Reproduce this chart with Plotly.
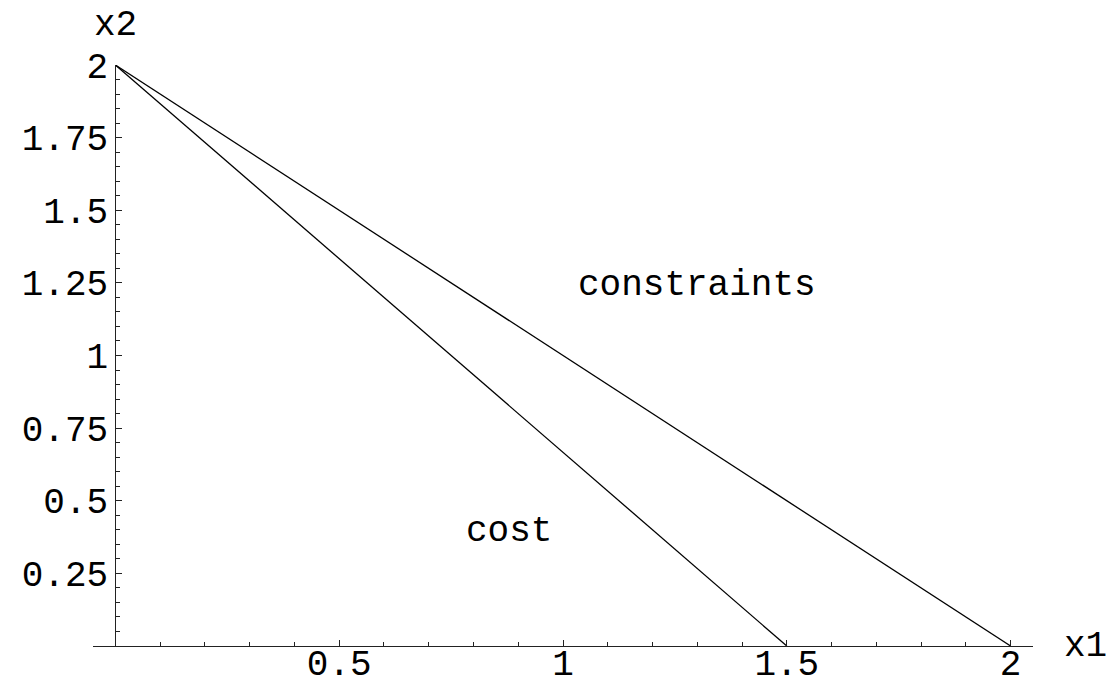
import plotly.graph_objects as go

# Data
cost_x = [0.0, 1.5]
cost_y = [2.0, 0.0]
constraints_x = [0.0, 2.0]
constraints_y = [2.0, 0.0]

x_tickvals = [0.5, 1.0, 1.5, 2.0]
x_ticktext = ["0.5", "1", "1.5", "2"]
y_tickvals = [0.25, 0.5, 0.75, 1.0, 1.25, 1.5, 1.75, 2.0]
y_ticktext = ["0.25", "0.5", "0.75", "1", "1.25", "1.5", "1.75", "2"]

labels = [("constraints", 1.3, 1.24), ("cost", 0.88, 0.395)]

FONT = "Liberation Mono, Courier New, monospace"
W, H = 1109, 686
L, R, T, B = 93, 76, 65, 40
x_range = [-0.05, 2.05]
y_range = [0.0, 2.0]
ypos = (0 - x_range[0]) / (x_range[1] - x_range[0])

fig = go.Figure()
fig.add_trace(go.Scatter(x=cost_x, y=cost_y, mode="lines",
                         line=dict(color="black", width=1.3), showlegend=False, hoverinfo="skip"))
fig.add_trace(go.Scatter(x=constraints_x, y=constraints_y, mode="lines",
                         line=dict(color="black", width=1.3), showlegend=False, hoverinfo="skip"))

for text, tx, ty in labels:
    fig.add_annotation(x=tx, y=ty, xref="x", yref="y", text=text, showarrow=False,
                       font=dict(family=FONT, size=36, color="black"),
                       xanchor="center", yanchor="middle")

fig.add_annotation(x=ypos, y=1, xref="paper", yref="paper", text="x2", showarrow=False,
                   font=dict(family=FONT, size=36, color="black"),
                   xanchor="center", yanchor="bottom", yshift=17)
fig.add_annotation(x=1, y=0, xref="paper", yref="paper", text="x1", showarrow=False,
                   font=dict(family=FONT, size=36, color="black"),
                   xanchor="left", yanchor="middle", xshift=29)

fig.update_layout(
    width=W, height=H,
    margin=dict(l=L, r=R, t=T, b=B, autoexpand=False),
    plot_bgcolor="white", paper_bgcolor="white",
    font=dict(family=FONT, size=36, color="black"),
    xaxis=dict(range=x_range, showgrid=False, zeroline=False, showline=True,
               linecolor="#222", linewidth=1, ticks="inside", ticklen=6, tickwidth=1,
               tickcolor="#222", tickmode="array", tickvals=x_tickvals, ticktext=x_ticktext,
               tickfont=dict(family=FONT, size=36, color="black"), automargin=False,
               ticklabelstandoff=-15,
               minor=dict(tickmode="linear", tick0=0, dtick=0.1, ticks="inside", ticklen=4,
                          tickwidth=1, tickcolor="#222", showgrid=False),
               anchor="y", fixedrange=True),
    yaxis=dict(range=y_range, showgrid=False, zeroline=False, showline=True,
               linecolor="#222", linewidth=1, ticks="inside", ticklen=6, tickwidth=1,
               tickcolor="#222", tickmode="array", tickvals=y_tickvals, ticktext=y_ticktext,
               tickfont=dict(family=FONT, size=36, color="black"), automargin=False,
               minor=dict(tickmode="linear", tick0=0, dtick=0.05, ticks="inside", ticklen=4,
                          tickwidth=1, tickcolor="#222", showgrid=False),
               anchor="free", position=ypos, fixedrange=True),
)

fig.write_html("out.html", config={"displayModeBar": False})
